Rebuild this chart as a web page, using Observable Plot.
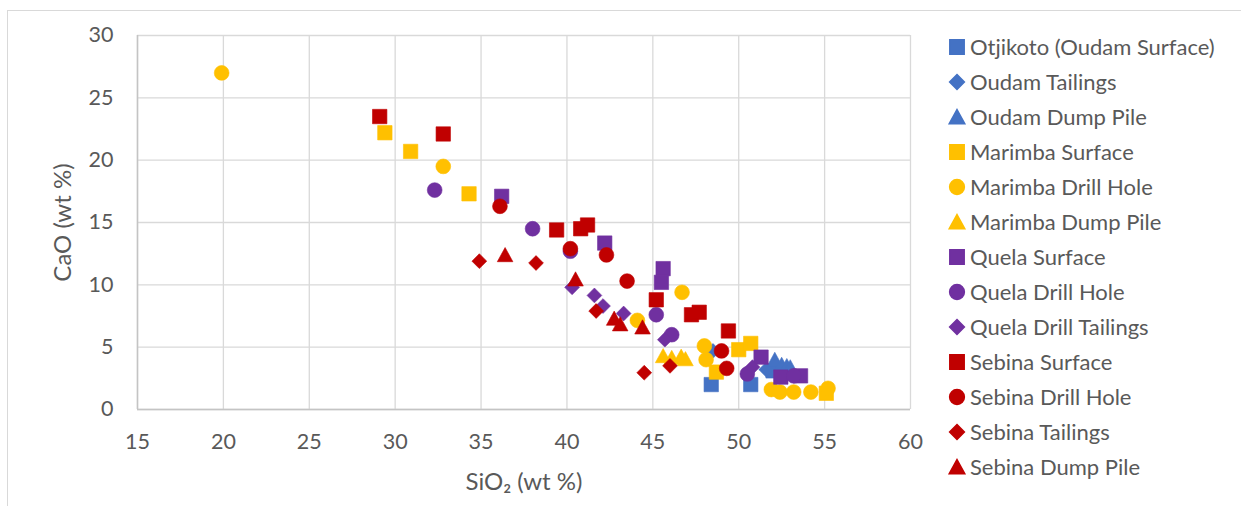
<!DOCTYPE html>
<html>
<head>
<meta charset="utf-8">
<script src="https://cdn.jsdelivr.net/npm/d3@7"></script>
<script src="https://cdn.jsdelivr.net/npm/@observablehq/plot@0.6"></script>
<style>
  html, body { margin: 0; padding: 0; background: #fff; }
  #wrap { position: relative; width: 1241px; height: 506px; overflow: hidden; background: #fff; }
  #border { position: absolute; left: 7px; top: 10px; right: -5px; bottom: -5px;
            border-top: 1.5px solid #d9d9d9; border-left: 1.5px solid #d9d9d9; }
  #chart { position: absolute; left: 0; top: 0; }
  #legend { position: absolute; left: 949px; top: 29px; }
  .lg-swatches { font-family: Lato, "Open Sans", sans-serif; font-size: 22px; color: #595959; margin: 0; }
  .lg-swatches-columns .lg-swatch { height: 35px; padding-bottom: 0; }
  .lg-swatch > svg { margin-right: 5px; }
</style>
</head>
<body>
<div id="wrap">
  <div id="border"></div>
  <div id="chart"></div>
  <div id="legend"></div>
</div>
<script>
// ---- data (SiO2 wt %, CaO wt %) ----
const seriesNames = [
  "Otjikoto (Oudam Surface)", "Oudam Tailings", "Oudam Dump Pile",
  "Marimba Surface", "Marimba Drill Hole", "Marimba Dump Pile",
  "Quela Surface", "Quela Drill Hole", "Quela Drill Tailings",
  "Sebina Surface", "Sebina Drill Hole", "Sebina Tailings", "Sebina Dump Pile"
];
const otjikoto = [[48.4, 2.0], [50.7, 2.0], [52.0, 3.1]];
const oudamTailings = [[48.5, 4.7], [51.6, 3.2]];
const oudamDumpPile = [[52.1, 4.0], [52.5, 3.6], [52.8, 3.5], [53.0, 3.4]];
const marimbaSurface = [[29.4, 22.2], [30.9, 20.7], [34.3, 17.3], [48.7, 3.0], [50.0, 4.8], [50.7, 5.3], [55.1, 1.3]];
const marimbaDrillHole = [[19.9, 27.0], [32.8, 19.5], [46.7, 9.4], [44.1, 7.15], [48.0, 5.1], [48.1, 4.0],
  [51.9, 1.6], [52.4, 1.4], [53.2, 1.4], [54.2, 1.4], [55.2, 1.7]];
const marimbaDumpPile = [[45.6, 4.3], [46.1, 4.15], [46.65, 4.25], [46.9, 4.05]];
const quelaSurface = [[36.2, 17.1], [42.2, 13.35], [45.6, 11.3], [45.5, 10.2], [51.3, 4.2], [52.45, 2.6], [53.6, 2.7]];
const quelaDrillHole = [[32.3, 17.6], [38.0, 14.5], [40.2, 12.7], [45.2, 7.6], [46.1, 6.0], [50.5, 2.85], [53.2, 2.7]];
const quelaDrillTailings = [[40.3, 9.8], [41.6, 9.15], [42.1, 8.3], [43.3, 7.7], [45.7, 5.6], [50.8, 3.4]];
const sebinaSurface = [[29.1, 23.5], [32.8, 22.1], [39.4, 14.4], [40.8, 14.5], [41.2, 14.8], [45.2, 8.8],
  [47.25, 7.6], [47.7, 7.8], [49.4, 6.3]];
const sebinaDrillHole = [[36.1, 16.3], [40.2, 12.9], [42.3, 12.4], [43.5, 10.3], [49.0, 4.7], [49.3, 3.3]];
const sebinaTailings = [[34.9, 11.9], [38.2, 11.75], [41.7, 7.9], [46.0, 3.5], [44.5, 2.95]];
const sebinaDumpPile = [[36.4, 12.4], [40.5, 10.45], [42.75, 7.3], [43.1, 6.85], [44.4, 6.6]];
const xTicks = [15, 20, 25, 30, 35, 40, 45, 50, 55, 60];
const yTicks = [0, 5, 10, 15, 20, 25, 30];
const xTitle = "SiO₂ (wt %)";
const yTitle = "CaO (wt %)";

const seriesData = [otjikoto, oudamTailings, oudamDumpPile, marimbaSurface, marimbaDrillHole, marimbaDumpPile,
  quelaSurface, quelaDrillHole, quelaDrillTailings, sebinaSurface, sebinaDrillHole, sebinaTailings, sebinaDumpPile];

// ---- styles ----
const seriesColors = ["#4472C4", "#4472C4", "#4472C4", "#FFC000", "#FFC000", "#FFC000",
  "#7030A0", "#7030A0", "#7030A0", "#C00000", "#C00000", "#C00000", "#C00000"];
const sq = {draw(c) { const h = 7.2; c.moveTo(-h, -h); c.lineTo(h, -h); c.lineTo(h, h); c.lineTo(-h, h); c.closePath(); }};
const ci = {draw(c) { const r = 7.4; c.moveTo(r, 0); c.arc(0, 0, r, 0, 2 * Math.PI); c.closePath(); }};
const di = {draw(c) { const h = 7.4; c.moveTo(0, -h); c.lineTo(h, 0); c.lineTo(0, h); c.lineTo(-h, 0); c.closePath(); }};
const tr = {draw(c) { c.moveTo(0, -7.4); c.lineTo(7.8, 6.8); c.lineTo(-7.8, 6.8); c.closePath(); }};
const seriesSymbols = [sq, di, tr, sq, ci, tr, sq, ci, di, sq, ci, di, tr];

const table = seriesNames.flatMap((name, i) => seriesData[i].map(([si, ca]) => ({series: name, si, ca})));

const font = "Lato, 'Open Sans', sans-serif";
const chart = Plot.plot({
  width: 1241, height: 506,
  marginLeft: 137, marginRight: 331, marginTop: 35, marginBottom: 97,
  style: {fontFamily: font, fontSize: "21.5px", color: "#595959", background: "transparent", overflow: "visible"},
  x: {domain: [15, 60]},
  y: {domain: [0, 30]},
  color: {type: "ordinal", domain: seriesNames, range: seriesColors},
  symbol: {domain: seriesNames, range: seriesSymbols},
  marks: [
    Plot.gridX(xTicks, {stroke: "#d9d9d9", strokeOpacity: 1, strokeWidth: 1.3}),
    Plot.gridY(yTicks, {stroke: "#d9d9d9", strokeOpacity: 1, strokeWidth: 1.3}),
    Plot.ruleX([15], {stroke: "#c4c4c4", strokeWidth: 1.5}),
    Plot.ruleY([0], {stroke: "#c4c4c4", strokeWidth: 1.5}),
    Plot.dot(table, {x: "si", y: "ca", fill: "series", stroke: "series", symbol: "series", strokeWidth: 0.6}),
    Plot.axisX({ticks: xTicks, tickSize: 0, tickPadding: 24, label: null, fontSize: 21.5}),
    Plot.axisY({ticks: yTicks, tickSize: 0, tickPadding: 24, label: null, fontSize: 21.5}),
    Plot.axisX({ticks: [], tickSize: 0, label: xTitle, labelAnchor: "center",
      labelOffset: 80, labelArrow: "none", fontSize: 24}),
    Plot.axisY({ticks: [], tickSize: 0, label: yTitle, labelAnchor: "center",
      labelOffset: 84, labelArrow: "none", fontSize: 24})
  ]
});
document.getElementById("chart").append(chart);
const legend = chart.legend("symbol", {columns: 1, swatchSize: 16, className: "lg"});
if (legend) document.getElementById("legend").append(legend);
</script>
</body>
</html>
